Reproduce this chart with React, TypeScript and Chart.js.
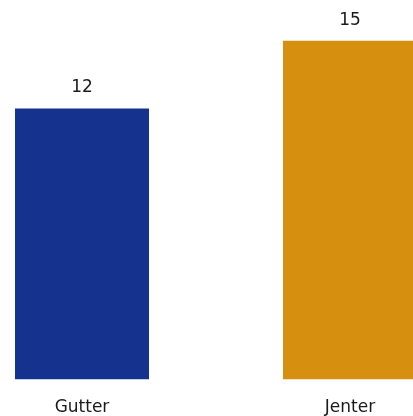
import React, { useEffect, useRef } from "react";
import { Chart, registerables } from "chart.js";

Chart.register(...registerables);

const categories = ["Gutter", "Jenter"];
const values = [12, 15];
const barColors = ["#15328f", "#d78f0f"];

const FONT = "'DejaVu Sans', sans-serif";

const valueLabels = {
  id: "valueLabels",
  afterDatasetsDraw(chart: any) {
    const ctx = chart.ctx;
    const meta = chart.getDatasetMeta(0);
    ctx.save();
    ctx.font = `17px ${FONT}`;
    ctx.fillStyle = "#1a1a1a";
    ctx.textAlign = "center";
    ctx.textBaseline = "alphabetic";
    meta.data.forEach((bar: any, i: number) => {
      ctx.fillText(String(values[i]), bar.x, bar.y - 16);
    });
    ctx.restore();
  },
};

export default function App() {
  const ref = useRef<HTMLCanvasElement>(null);
  useEffect(() => {
    if (!ref.current) return;
    const chart = new Chart(ref.current, {
      type: "bar",
      data: {
        labels: categories,
        datasets: [
          {
            data: values,
            backgroundColor: barColors,
            borderWidth: 0,
            barPercentage: 0.5,
            categoryPercentage: 1,
          },
        ],
      },
      options: {
        responsive: false,
        animation: false,
        layout: { padding: 0 },
        plugins: { legend: { display: false }, tooltip: { enabled: false } },
        scales: {
          x: {
            grid: { display: false, drawTicks: false },
            border: { display: false },
            ticks: {
              padding: 18,
              color: "#1a1a1a",
              font: { family: FONT, size: 17 },
            },
          },
          y: {
            display: false,
            min: 0,
            max: 16.8,
          },
        },
      },
      plugins: [valueLabels],
    });
    return () => chart.destroy();
  }, []);
  return (
    <div
      style={{
        position: "absolute",
        left: 0,
        top: 0,
        width: 413,
        height: 416,
        overflow: "hidden",
        background: "#fff",
      }}
    >
      <div style={{ position: "absolute", left: -52, top: 0, width: 536, height: 436 }}>
        <canvas ref={ref} width={536} height={436} />
      </div>
    </div>
  );
}
